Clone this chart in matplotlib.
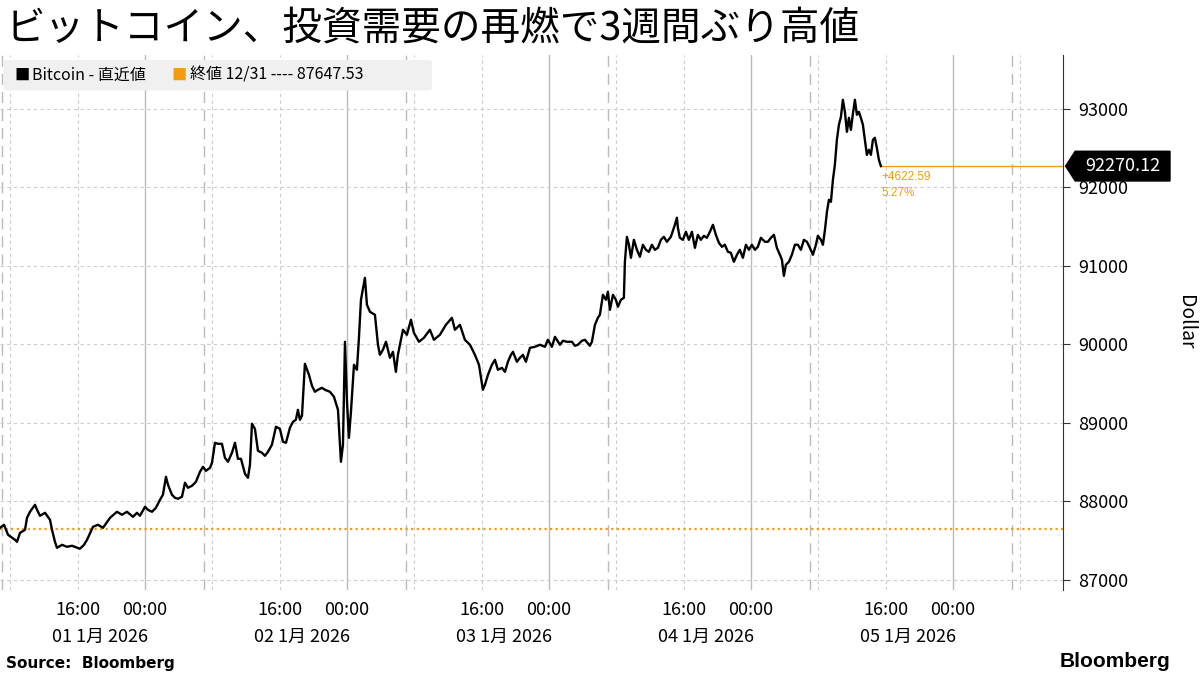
import matplotlib
matplotlib.use("Agg")
import matplotlib.pyplot as plt
from matplotlib.patches import FancyBboxPatch, Polygon

plt.rcParams["font.family"] = ["Noto Sans CJK JP", "DejaVu Sans"]

# hours since 2026-01-01 00:00
hours = [
    6.77, 7.25, 7.72, 8.55, 8.79, 9.15, 9.74, 9.98, 10.33, 10.93, 11.17, 11.52, 12.12, 12.71,
    12.95, 13.30, 13.54, 14.14, 14.73, 15.32, 16.27, 16.75, 17.11, 17.82, 18.41, 19.01, 19.84,
    20.67, 21.26, 21.86, 22.57, 23.05, 23.40, 24.00, 24.35, 24.83, 25.30, 25.78, 26.13, 26.49,
    26.73, 27.20, 27.56, 27.92, 28.39, 28.75, 29.10, 29.58, 30.05, 30.53, 30.89, 31.24, 31.72,
    31.96, 32.31, 32.67, 33.14, 33.50, 33.86, 34.33, 34.69, 35.04, 35.40, 35.88, 36.23, 36.47,
    36.71, 37.06, 37.42, 37.90, 38.25, 38.61, 39.08, 39.56, 40.03, 40.39, 40.75, 41.22, 41.58,
    41.93, 42.17, 42.41, 42.65, 43.00, 43.48, 43.84, 44.19, 44.55, 45.02, 45.38, 45.97, 46.45,
    46.93, 47.28, 47.52, 47.76, 48.00, 48.23, 48.47, 48.83, 49.18, 49.42, 49.66, 50.13, 50.37,
    50.73, 51.32, 51.68, 51.91, 52.27, 52.63, 53.10, 53.46, 53.81, 54.05, 54.65, 55.12, 55.60,
    55.95, 56.55, 57.14, 57.85, 58.33, 59.04, 59.75, 60.47, 60.82, 61.42, 62.01, 62.61, 63.20,
    63.68, 64.15, 64.39, 64.75, 65.22, 65.58, 65.93, 66.41, 66.77, 67.12, 67.48, 67.72, 68.19,
    68.55, 68.90, 69.26, 69.74, 70.33, 70.92, 71.52, 71.87, 72.35, 72.71, 73.30, 73.66, 74.13,
    74.73, 75.08, 75.44, 75.91, 76.27, 76.86, 77.10, 77.46, 77.81, 78.05, 78.41, 78.77, 79.00,
    79.24, 79.60, 79.95, 80.19, 80.55, 80.90, 81.02, 81.26, 81.50, 81.74, 82.09, 82.45, 82.80,
    83.16, 83.52, 83.87, 84.23, 84.58, 84.94, 85.30, 85.65, 86.01, 86.48, 86.96, 87.20, 87.32,
    87.55, 87.91, 88.27, 88.62, 88.98, 89.34, 89.69, 90.05, 90.41, 90.76, 91.12, 91.48, 91.83,
    92.19, 92.55, 92.90, 93.26, 93.61, 93.97, 94.33, 94.68, 95.04, 95.40, 95.75, 96.11, 96.47,
    96.82, 97.18, 97.66, 98.01, 98.37, 98.73, 99.08, 99.44, 99.68, 99.91, 100.15, 100.51,
    100.86, 101.22, 101.58, 101.93, 102.29, 102.65, 103.00, 103.36, 103.72, 103.95, 104.31,
    104.55, 104.79, 105.03, 105.26, 105.50, 105.74, 105.97, 106.21, 106.45, 106.69, 106.92,
    107.16, 107.40, 107.64, 107.87, 108.11, 108.35, 108.59, 108.82, 109.06, 109.30, 109.54,
    109.77, 110.01, 110.25, 110.49, 110.72, 110.96, 111.20, 111.44,
]
prices = [
    87662, 87700, 87573, 87509, 87484, 87598, 87636, 87789, 87866, 87955, 87891, 87815, 87853, 87764,
    87636, 87484, 87407, 87445, 87420, 87433, 87395, 87445, 87509, 87675, 87700, 87662, 87789,
    87866, 87828, 87866, 87802, 87853, 87815, 87930, 87891, 87866, 87917, 88019, 88083, 88312,
    88210, 88083, 88044, 88032, 88057, 88236, 88172, 88197, 88248, 88375, 88439, 88388, 88426,
    88490, 88745, 88732, 88732, 88554, 88503, 88618, 88745, 88541, 88541, 88350, 88299, 88465,
    88987, 88923, 88643, 88618, 88579, 88630, 88720, 88949, 88923, 88758, 88745, 88936, 89012,
    89038, 89165, 89038, 89089, 89751, 89611, 89471, 89395, 89420, 89446, 89420, 89395, 89331,
    89165, 88503, 88720, 90032, 89267, 88808, 89140, 89739, 89675, 90083, 90567, 90847, 90503,
    90414, 90376, 89994, 89866, 89930, 90032, 89828, 89904, 89649, 89866, 90185, 90121, 90312,
    90146, 90032, 90083, 90185, 90057, 90121, 90248, 90337, 90185, 90248, 90057, 89994, 89866,
    89739, 89420, 89484, 89611, 89739, 89802, 89675, 89700, 89649, 89777, 89866, 89904, 89777,
    89828, 89866, 89777, 89955, 89968, 89994, 89968, 90057, 89968, 90095, 89994, 90045, 90032,
    90032, 89981, 89994, 90045, 90057, 89981, 90032, 90248, 90337, 90376, 90630, 90567, 90669,
    90439, 90630, 90567, 90478, 90567, 90592, 91051, 91369, 91268, 91102, 91331, 91204, 91115,
    91268, 91204, 91178, 91268, 91204, 91229, 91331, 91369, 91306, 91369, 91522, 91612, 91484,
    91357, 91331, 91433, 91331, 91433, 91229, 91395, 91331, 91382, 91357, 91433, 91522, 91395,
    91293, 91242, 91268, 91178, 91166, 91051, 91140, 91204, 91102, 91268, 91204, 91268, 91204,
    91242, 91357, 91306, 91306, 91357, 91395, 91229, 91140, 91076, 90872, 91013, 91051,
    91140, 91268, 91268, 91204, 91331, 91306, 91229, 91140, 91268, 91382, 91331,
    91268, 91458, 91688, 91841, 91815, 92096, 92287, 92605, 92797, 92898, 93115,
    92962, 92707, 92885, 92732, 92936, 93115, 92924, 92962, 92885, 92797, 92605,
    92414, 92478, 92414, 92605, 92631, 92503, 92350, 92270.12,
]
prev_close = 87647.53
last_price = 92270.12
change = 4622.59
change_pct = 5.27
days = ["01", "02", "03", "04", "05"]
y_ticks = [87000, 88000, 89000, 90000, 91000, 92000, 93000]

X0, X1 = 6.77, 133.1
ORANGE = "#f39c12"

fig = plt.figure(figsize=(12, 6.75), dpi=100)
ax = fig.add_axes([0.0, 0.126, 0.886, 0.793])
ax.set_xlim(X0, X1)
ax.set_ylim(86870, 93690)

# vertical grid: solid at 00:00, dotted at 08:00/16:00, dashed session breaks at 07:00
for d in range(0, 6):
    base = 24 * d
    ax.axvline(base, color="#bbbbbb", lw=1.0, zorder=0)
    for hh in (8, 16):
        ax.axvline(base + hh, color="#cccccc", lw=0.8, ls=(0, (3, 3)), zorder=0)
    ax.axvline(base + 7, color="#bbbbbb", lw=1.0, ls=(0, (8, 5)), zorder=0)
for yv in y_ticks:
    ax.axhline(yv, color="#cccccc", lw=0.8, ls=(0, (3, 3)), zorder=0)

ax.axhline(prev_close, color=ORANGE, lw=1.6, ls=(0, (1, 1.5)), zorder=1)
ax.plot(hours, prices, color="black", lw=1.7, zorder=3)
ax.plot([hours[-1], X1], [last_price, last_price], color=ORANGE, lw=1.0, zorder=2)
ax.text(hours[-1] + 0.1, last_price - 60, f"+{change:.2f}", color=ORANGE, fontsize=8.5,
        va="top", ha="left", family=["Liberation Sans"])
ax.text(hours[-1] + 0.1, last_price - 270, f"{change_pct:.2f}%", color=ORANGE, fontsize=8.5,
        va="top", ha="left", family=["Liberation Sans"])

for s in ax.spines.values():
    s.set_visible(False)
ax.spines["right"].set_visible(True)
ax.spines["right"].set_color("#333333")
ax.yaxis.tick_right()
ax.set_yticks(y_ticks)
ax.set_yticklabels([str(v) for v in y_ticks], fontsize=13)
ax.tick_params(axis="y", length=5, color="#333333", pad=6)

xt, xl = [], []
for i in range(5):
    xt += [24 * i + 16, 24 * i + 24]
    xl += ["16:00", "00:00"]
ax.set_xticks(xt)
ax.set_xticklabels(xl, fontsize=13)
ax.tick_params(axis="x", length=0, pad=8)
for i, d in enumerate(days):
    ax.text(24 * i + 18.7, -0.07, f"{d} 1月 2026", transform=ax.get_xaxis_transform(),
            ha="center", va="top", fontsize=13)

ax.text(1.115, 0.5, "Dollar", transform=ax.transAxes, rotation=-90, fontsize=14,
        ha="center", va="center")

# last price tag
tag_y = ax.transData.transform((0, last_price))[1] / fig.dpi / 6.75
tag = Polygon([[0.888, tag_y], [0.896, tag_y + 0.022], [0.975, tag_y + 0.022],
               [0.975, tag_y - 0.022], [0.896, tag_y - 0.022]],
              closed=True, transform=fig.transFigure, color="black", zorder=5)
fig.patches.append(tag)
fig.text(0.936, tag_y, f"{last_price:.2f}", color="white", fontsize=13, ha="center",
         va="center", zorder=6)

# legend box
fig.patches.append(FancyBboxPatch((0.003, 0.866), 0.357, 0.045, boxstyle="round,pad=0,rounding_size=0.004",
                                  transform=fig.transFigure, facecolor="#f0f0f0", edgecolor="none", zorder=4))
fig.text(0.012, 0.889, "■", color="black", fontsize=11, va="center", zorder=5)
fig.text(0.027, 0.889, "Bitcoin - 直近値", fontsize=11.5, va="center", zorder=5)
fig.text(0.143, 0.889, "■", color=ORANGE, fontsize=11, va="center", zorder=5)
fig.text(0.158, 0.889, f"終値 12/31 ---- {prev_close:.2f}", fontsize=11.5, va="center", zorder=5)

fig.text(0.005, 0.958, "ビットコイン、投資需要の再燃で3週間ぶり高値", fontsize=28.5,
         va="center")
fig.text(0.005, 0.006, "Source:  Bloomberg", fontsize=11, fontweight="bold", va="bottom",
         family=["DejaVu Sans"])
fig.text(0.975, 0.006, "Bloomberg", fontsize=15, fontweight="bold", ha="right", va="bottom",
         family=["Liberation Sans"])

fig.savefig("out.png", dpi=100)
